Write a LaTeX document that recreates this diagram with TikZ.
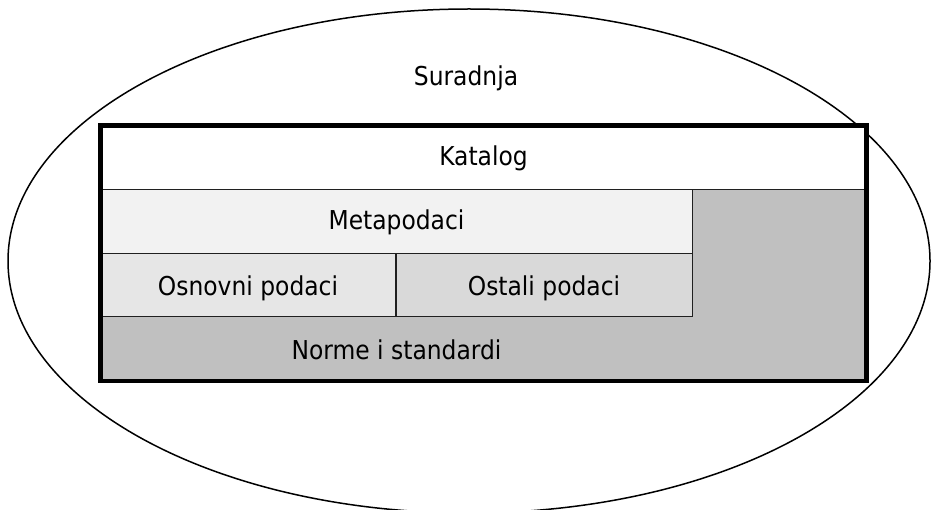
\documentclass[tikz,border=0pt]{standalone}
\usepackage{fontspec}
\setmainfont{DejaVu Sans}[FakeStretch=0.9]
\definecolor{metafill}{HTML}{F2F2F2}
\definecolor{osnfill}{HTML}{E6E6E6}
\definecolor{ostfill}{HTML}{D9D9D9}
\definecolor{normfill}{HTML}{C0C0C0}
\definecolor{thinline}{HTML}{202020}
\begin{document}
\begin{tikzpicture}[x=1pt,y=-1pt,
  lbl/.style={font=\fontsize{26}{30}\selectfont, text=black, inner sep=0pt, anchor=center},
  cell/.style={draw=thinline, line width=1.2pt},
  outer/.style={draw=black, line width=4.5pt}]
\useasboundingbox (0,0) rectangle (933,510);
\clip (0,0) rectangle (933,510);
% ellipse
\draw[line width=1.5pt] (469,261) ellipse [x radius=461, y radius=252];
% gray background of frame
\fill[normfill] (100.5,125.5) rectangle (866.5,381);
% Katalog
\fill[white] (100.5,125.5) rectangle (866.5,189.5);
\draw[cell] (100.5,189.5) -- (866.5,189.5);
% Metapodaci
\filldraw[cell, fill=metafill] (100.5,189.5) rectangle (692.5,253.5);
% Osnovni / Ostali
\filldraw[cell, fill=osnfill] (100.5,253.5) rectangle (396,316.5);
\filldraw[cell, fill=ostfill] (396,253.5) rectangle (692.5,316.5);
% outer frame
\draw[outer] (100.5,125.5) rectangle (866.5,381);
% labels
\node[lbl] (sur) at (466,78) {Suradnja};
\node[lbl] (kat) at (483.5,158) {Katalog};
\node[lbl] (meta) at (396.5,222) {Metapodaci};
\node[lbl] (osn) at (248,288) {Osnovni podaci};
\node[lbl] (ost) at (544,288) {Ostali podaci};
\node[lbl] (norm) at (396.5,350) {Norme i standardi};
\end{tikzpicture}
\end{document}
